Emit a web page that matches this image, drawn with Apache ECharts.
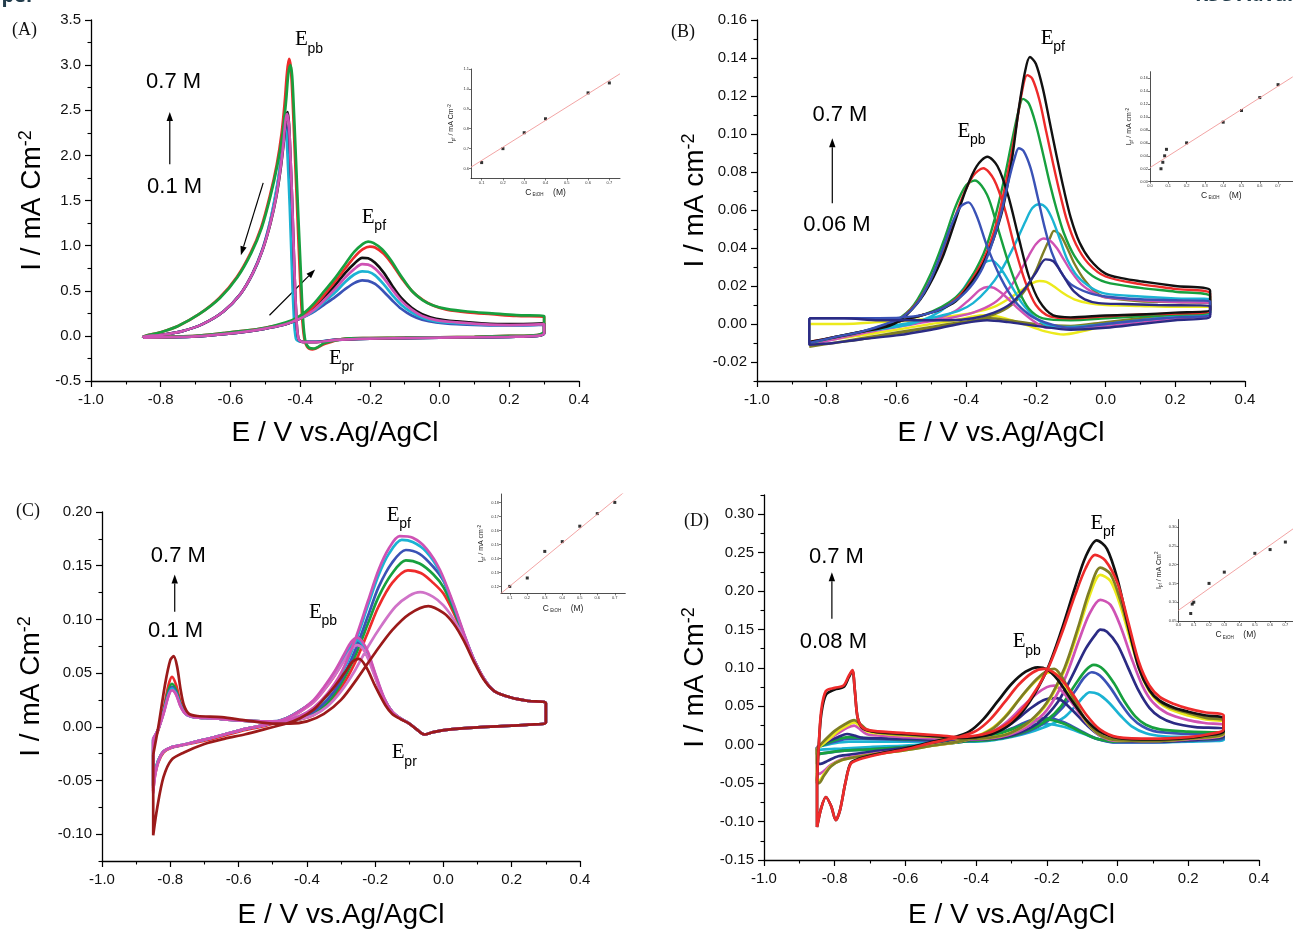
<!DOCTYPE html>
<html>
<head>
<meta charset="utf-8">
<script src="https://cdn.jsdelivr.net/npm/echarts@6.0.0/dist/echarts.min.js"></script>
<style>
html,body{margin:0;padding:0;background:#fff;}
#chart{width:1293px;height:930px;}
</style>
</head>
<body>
<div id="chart"></div>
<script>
// ---------- tick labels ----------
const xTicksMain = [-1.0, -0.8, -0.6, -0.4, -0.2, 0.0, 0.2, 0.4];
const yTicksA = [-0.5, 0.0, 0.5, 1.0, 1.5, 2.0, 2.5, 3.0, 3.5];
const yTicksB = [-0.02, 0.0, 0.02, 0.04, 0.06, 0.08, 0.10, 0.12, 0.14, 0.16];
const yTicksC = [-0.10, -0.05, 0.0, 0.05, 0.10, 0.15, 0.20];
const yTicksD = [-0.15, -0.10, -0.05, 0.0, 0.05, 0.10, 0.15, 0.20, 0.25, 0.30];
const insetXTicksA = [0.1, 0.2, 0.3, 0.4, 0.5, 0.6, 0.7];
const insetYTicksA = [0.6, 0.7, 0.8, 0.9, 1.0, 1.1];
const insetXTicksB = [0.0, 0.1, 0.2, 0.3, 0.4, 0.5, 0.6, 0.7];
const insetYTicksB = [0.00, 0.02, 0.04, 0.06, 0.08, 0.10, 0.12, 0.14, 0.16];
const insetXTicksC = [0.1, 0.2, 0.3, 0.4, 0.5, 0.6, 0.7];
const insetYTicksC = [0.12, 0.13, 0.14, 0.15, 0.16, 0.17, 0.18];
const insetXTicksD = [0.0, 0.1, 0.2, 0.3, 0.4, 0.5, 0.6, 0.7];
const insetYTicksD = [0.05, 0.10, 0.15, 0.20, 0.25, 0.30];

// ---------- (A) voltammograms: [E / V, I / mA cm-2], forward then reverse scan ----------
const cvA_green = [[-0.85,-0.02],[-0.78,-0.01],[-0.7,0.0],[-0.62,0.03],[-0.55,0.06],[-0.5,0.09],[-0.45,0.14],[-0.42,0.18],[-0.39,0.25],[-0.36,0.36],[-0.33,0.5],[-0.3,0.64],[-0.27,0.8],[-0.245,0.93],[-0.22,1.02],[-0.205,1.045],[-0.19,1.03],[-0.165,0.96],[-0.14,0.84],[-0.11,0.66],[-0.08,0.5],[-0.05,0.4],[-0.02,0.34],[0.02,0.3],[0.08,0.27],[0.15,0.25],[0.22,0.23],[0.3,0.22],
  [0.3,0.05],[0.28,0.01],[0.2,0.0],[0.1,-0.01],[0.0,-0.015],[-0.1,-0.02],[-0.2,-0.025],[-0.28,-0.035],[-0.33,-0.08],[-0.36,-0.14],[-0.375,-0.13],[-0.385,-0.06],[-0.392,0.2],[-0.398,0.7],[-0.405,1.3],[-0.412,1.95],[-0.418,2.5],[-0.423,2.88],[-0.428,3.0],[-0.434,2.9],[-0.44,2.62],[-0.45,2.25],[-0.465,1.9],[-0.485,1.55],[-0.51,1.2],[-0.54,0.92],[-0.58,0.65],[-0.63,0.42],[-0.69,0.24],[-0.75,0.11],[-0.8,0.04],[-0.85,-0.01]];
const cvA_red = [[-0.85,-0.02],[-0.78,-0.01],[-0.7,0.0],[-0.62,0.03],[-0.55,0.06],[-0.5,0.09],[-0.45,0.13],[-0.42,0.17],[-0.39,0.23],[-0.36,0.33],[-0.33,0.46],[-0.3,0.6],[-0.27,0.75],[-0.245,0.87],[-0.22,0.96],[-0.2,0.99],[-0.185,0.98],[-0.16,0.91],[-0.135,0.79],[-0.105,0.62],[-0.075,0.48],[-0.045,0.39],[-0.015,0.33],[0.02,0.29],[0.08,0.26],[0.15,0.24],[0.22,0.22],[0.3,0.21],
  [0.3,0.04],[0.28,0.01],[0.2,0.0],[0.1,-0.01],[0.0,-0.015],[-0.1,-0.02],[-0.2,-0.025],[-0.28,-0.035],[-0.33,-0.09],[-0.365,-0.15],[-0.38,-0.12],[-0.388,-0.03],[-0.395,0.25],[-0.402,0.8],[-0.409,1.45],[-0.416,2.1],[-0.422,2.65],[-0.427,2.98],[-0.432,3.07],[-0.438,2.9],[-0.444,2.6],[-0.453,2.25],[-0.467,1.9],[-0.487,1.55],[-0.512,1.2],[-0.542,0.92],[-0.582,0.65],[-0.632,0.42],[-0.69,0.24],[-0.75,0.11],[-0.8,0.04],[-0.85,-0.01]];
const cvA_black = [[-0.85,-0.02],[-0.78,-0.015],[-0.7,-0.005],[-0.62,0.02],[-0.55,0.05],[-0.5,0.08],[-0.45,0.12],[-0.42,0.16],[-0.39,0.22],[-0.36,0.31],[-0.33,0.43],[-0.3,0.56],[-0.27,0.7],[-0.245,0.8],[-0.222,0.865],[-0.205,0.86],[-0.185,0.81],[-0.16,0.7],[-0.135,0.55],[-0.11,0.42],[-0.08,0.31],[-0.05,0.24],[-0.01,0.19],[0.05,0.16],[0.12,0.14],[0.2,0.13],[0.3,0.14],
  [0.3,0.03],[0.28,0.0],[0.2,-0.01],[0.1,-0.015],[0.0,-0.02],[-0.1,-0.025],[-0.2,-0.03],[-0.3,-0.045],[-0.36,-0.07],[-0.39,-0.07],[-0.405,-0.03],[-0.412,0.3],[-0.418,0.9],[-0.423,1.5],[-0.428,2.0],[-0.432,2.35],[-0.436,2.48],[-0.441,2.4],[-0.447,2.15],[-0.456,1.85],[-0.468,1.55],[-0.485,1.25],[-0.508,0.95],[-0.535,0.7],[-0.57,0.47],[-0.62,0.27],[-0.68,0.13],[-0.74,0.05],[-0.8,0.01],[-0.85,-0.01]];
const cvA_magenta = [[-0.85,-0.02],[-0.78,-0.015],[-0.7,-0.005],[-0.62,0.02],[-0.55,0.05],[-0.5,0.08],[-0.45,0.12],[-0.42,0.16],[-0.39,0.21],[-0.36,0.29],[-0.33,0.4],[-0.3,0.52],[-0.27,0.65],[-0.245,0.74],[-0.222,0.795],[-0.205,0.79],[-0.185,0.745],[-0.16,0.64],[-0.135,0.51],[-0.11,0.39],[-0.08,0.29],[-0.05,0.22],[-0.01,0.175],[0.05,0.15],[0.12,0.13],[0.2,0.12],[0.3,0.13],
  [0.3,0.03],[0.28,0.0],[0.2,-0.01],[0.1,-0.015],[0.0,-0.02],[-0.1,-0.025],[-0.2,-0.03],[-0.3,-0.045],[-0.36,-0.07],[-0.39,-0.07],[-0.405,-0.03],[-0.412,0.3],[-0.418,0.9],[-0.423,1.5],[-0.428,2.0],[-0.432,2.33],[-0.437,2.46],[-0.442,2.38],[-0.448,2.13],[-0.457,1.84],[-0.469,1.54],[-0.486,1.24],[-0.508,0.95],[-0.535,0.7],[-0.57,0.47],[-0.62,0.27],[-0.68,0.13],[-0.74,0.05],[-0.8,0.01],[-0.85,-0.01]];
const cvA_blue = [[-0.85,-0.02],[-0.78,-0.015],[-0.7,-0.005],[-0.62,0.02],[-0.55,0.05],[-0.5,0.08],[-0.45,0.12],[-0.42,0.16],[-0.39,0.21],[-0.36,0.27],[-0.33,0.35],[-0.3,0.43],[-0.27,0.52],[-0.245,0.585],[-0.222,0.615],[-0.205,0.61],[-0.185,0.575],[-0.16,0.49],[-0.135,0.39],[-0.11,0.3],[-0.08,0.225],[-0.05,0.18],[-0.01,0.15],[0.05,0.13],[0.12,0.12],[0.2,0.115],[0.3,0.125],
  [0.3,0.03],[0.28,0.0],[0.2,-0.01],[0.1,-0.015],[0.0,-0.02],[-0.1,-0.025],[-0.2,-0.03],[-0.3,-0.045],[-0.36,-0.065],[-0.395,-0.065],[-0.41,-0.03],[-0.417,0.3],[-0.423,0.9],[-0.428,1.5],[-0.433,1.95],[-0.437,2.25],[-0.441,2.35],[-0.446,2.27],[-0.452,2.05],[-0.46,1.8],[-0.472,1.52],[-0.489,1.22],[-0.51,0.94],[-0.537,0.69],[-0.572,0.46],[-0.62,0.27],[-0.68,0.13],[-0.74,0.05],[-0.8,0.01],[-0.85,-0.01]];
const cvA_cyan = [[-0.85,-0.02],[-0.78,-0.015],[-0.7,-0.005],[-0.62,0.02],[-0.55,0.05],[-0.5,0.08],[-0.45,0.12],[-0.42,0.16],[-0.39,0.21],[-0.36,0.28],[-0.33,0.38],[-0.3,0.48],[-0.27,0.6],[-0.245,0.68],[-0.222,0.715],[-0.205,0.71],[-0.185,0.67],[-0.16,0.57],[-0.135,0.45],[-0.11,0.345],[-0.08,0.26],[-0.05,0.2],[-0.01,0.16],[0.05,0.14],[0.12,0.125],[0.2,0.118],[0.3,0.128],
  [0.3,0.03],[0.28,0.0],[0.2,-0.01],[0.1,-0.015],[0.0,-0.02],[-0.1,-0.025],[-0.2,-0.03],[-0.3,-0.045],[-0.36,-0.065],[-0.397,-0.065],[-0.412,-0.03],[-0.419,0.3],[-0.425,0.9],[-0.43,1.45],[-0.435,1.9],[-0.439,2.2],[-0.443,2.3],[-0.448,2.22],[-0.454,2.0],[-0.462,1.76],[-0.474,1.5],[-0.49,1.2],[-0.51,0.93],[-0.537,0.68],[-0.572,0.46],[-0.62,0.27],[-0.68,0.13],[-0.74,0.05],[-0.8,0.01],[-0.85,-0.01]];

// ---------- (B) ----------
const cvB_black = [[-0.85,-0.0095],[-0.75,-0.006],[-0.65,-0.002],[-0.58,0.002],[-0.52,0.005],[-0.47,0.008],[-0.43,0.012],[-0.4,0.018],[-0.35,0.032],[-0.3,0.057],[-0.27,0.085],[-0.25,0.112],[-0.232,0.132],[-0.217,0.1405],[-0.2,0.137],[-0.18,0.124],[-0.16,0.106],[-0.14,0.088],[-0.12,0.071],[-0.1,0.056],[-0.075,0.043],[-0.045,0.034],[0.0,0.0265],[0.05,0.024],[0.1,0.0225],[0.2,0.02],[0.3,0.0175],
  [0.3,0.0075],[0.2,0.006],[0.1,0.005],[0.0,0.0045],[-0.1,0.0035],[-0.15,0.0045],[-0.19,0.012],[-0.22,0.025],[-0.25,0.046],[-0.28,0.068],[-0.31,0.083],[-0.339,0.088],[-0.37,0.083],[-0.4,0.071],[-0.43,0.055],[-0.47,0.034],[-0.52,0.016],[-0.57,0.005],[-0.62,-0.001],[-0.7,-0.004],[-0.78,-0.007],[-0.85,-0.0095]];
const cvB_red = [[-0.85,-0.0095],[-0.75,-0.006],[-0.65,-0.002],[-0.58,0.002],[-0.52,0.005],[-0.47,0.008],[-0.43,0.013],[-0.4,0.019],[-0.35,0.034],[-0.31,0.055],[-0.28,0.08],[-0.26,0.1],[-0.24,0.122],[-0.225,0.131],[-0.21,0.129],[-0.19,0.118],[-0.17,0.101],[-0.15,0.084],[-0.13,0.068],[-0.11,0.054],[-0.085,0.042],[-0.05,0.032],[0.0,0.025],[0.1,0.021],[0.2,0.0185],[0.3,0.016],
  [0.3,0.007],[0.2,0.0055],[0.1,0.005],[0.0,0.004],[-0.1,0.003],[-0.16,0.004],[-0.2,0.01],[-0.23,0.022],[-0.26,0.04],[-0.29,0.061],[-0.32,0.076],[-0.351,0.082],[-0.38,0.078],[-0.41,0.067],[-0.44,0.052],[-0.48,0.032],[-0.53,0.014],[-0.58,0.004],[-0.63,-0.001],[-0.7,-0.004],[-0.78,-0.007],[-0.85,-0.0095]];
const cvB_green = [[-0.85,-0.01],[-0.75,-0.006],[-0.65,-0.002],[-0.58,0.002],[-0.52,0.005],[-0.47,0.009],[-0.43,0.014],[-0.4,0.02],[-0.35,0.037],[-0.32,0.054],[-0.29,0.077],[-0.27,0.095],[-0.25,0.112],[-0.237,0.1185],[-0.22,0.116],[-0.2,0.105],[-0.18,0.09],[-0.16,0.074],[-0.14,0.06],[-0.12,0.048],[-0.09,0.036],[-0.05,0.027],[0.0,0.022],[0.1,0.019],[0.2,0.017],[0.3,0.0145],
  [0.3,0.006],[0.2,0.005],[0.1,0.004],[0.0,0.003],[-0.1,0.002],[-0.18,0.003],[-0.22,0.008],[-0.25,0.018],[-0.28,0.033],[-0.31,0.051],[-0.34,0.068],[-0.375,0.0755],[-0.4,0.073],[-0.43,0.062],[-0.46,0.046],[-0.5,0.027],[-0.55,0.01],[-0.6,0.002],[-0.66,-0.002],[-0.72,-0.005],[-0.78,-0.007],[-0.85,-0.01]];
const cvB_blue = [[-0.85,0.003],[-0.75,0.003],[-0.65,0.003],[-0.55,0.004],[-0.5,0.006],[-0.45,0.01],[-0.4,0.017],[-0.36,0.027],[-0.33,0.04],[-0.3,0.058],[-0.28,0.074],[-0.26,0.088],[-0.249,0.0925],[-0.235,0.091],[-0.215,0.082],[-0.195,0.067],[-0.175,0.051],[-0.155,0.038],[-0.13,0.028],[-0.1,0.021],[-0.05,0.0165],[0.0,0.0145],[0.1,0.013],[0.2,0.0125],[0.3,0.012],
  [0.3,0.005],[0.2,0.0035],[0.1,0.002],[0.0,0.0],[-0.1,-0.002],[-0.16,0.0],[-0.19,0.002],[-0.22,0.005],[-0.26,0.012],[-0.3,0.024],[-0.34,0.041],[-0.37,0.057],[-0.393,0.064],[-0.415,0.062],[-0.44,0.053],[-0.47,0.038],[-0.5,0.024],[-0.54,0.011],[-0.58,0.004],[-0.63,0.0],[-0.7,-0.004],[-0.78,-0.007],[-0.85,-0.01]];
const cvB_cyan = [[-0.85,-0.01],[-0.75,-0.006],[-0.65,-0.002],[-0.55,0.001],[-0.48,0.004],[-0.42,0.007],[-0.38,0.011],[-0.34,0.018],[-0.3,0.028],[-0.26,0.042],[-0.23,0.054],[-0.21,0.061],[-0.19,0.063],[-0.17,0.061],[-0.15,0.054],[-0.13,0.044],[-0.11,0.034],[-0.08,0.025],[-0.04,0.019],[0.0,0.016],[0.1,0.0145],[0.2,0.0135],[0.3,0.013],
  [0.3,0.006],[0.2,0.004],[0.1,0.002],[0.0,0.0],[-0.1,-0.0015],[-0.16,-0.001],[-0.2,0.003],[-0.24,0.011],[-0.27,0.02],[-0.3,0.029],[-0.327,0.0335],[-0.35,0.032],[-0.38,0.026],[-0.41,0.018],[-0.45,0.01],[-0.5,0.004],[-0.56,0.0],[-0.62,-0.002],[-0.7,-0.004],[-0.78,-0.007],[-0.85,-0.01]];
const cvB_magenta = [[-0.85,-0.011],[-0.7,-0.005],[-0.55,0.0],[-0.45,0.003],[-0.38,0.006],[-0.32,0.011],[-0.28,0.018],[-0.25,0.026],[-0.22,0.036],[-0.2,0.042],[-0.178,0.045],[-0.16,0.044],[-0.14,0.04],[-0.12,0.034],[-0.1,0.028],[-0.07,0.021],[-0.03,0.016],[0.0,0.014],[0.1,0.0125],[0.2,0.0115],[0.3,0.011],
  [0.3,0.005],[0.2,0.003],[0.1,0.001],[0.0,-0.001],[-0.1,-0.002],[-0.17,-0.002],[-0.21,0.002],[-0.25,0.008],[-0.29,0.015],[-0.32,0.019],[-0.339,0.0195],[-0.36,0.018],[-0.39,0.013],[-0.43,0.007],[-0.48,0.003],[-0.55,0.0],[-0.62,-0.002],[-0.7,-0.005],[-0.78,-0.008],[-0.85,-0.011]];
const cvB_olive = [[-0.85,-0.012],[-0.75,-0.009],[-0.65,-0.006],[-0.55,-0.003],[-0.45,0.0],[-0.38,0.002],[-0.32,0.005],[-0.27,0.01],[-0.23,0.018],[-0.2,0.028],[-0.18,0.037],[-0.16,0.045],[-0.148,0.049],[-0.13,0.047],[-0.11,0.04],[-0.09,0.032],[-0.06,0.023],[-0.03,0.017],[0.0,0.014],[0.1,0.012],[0.2,0.0115],[0.3,0.0105],
  [0.3,0.007],[0.2,0.005],[0.1,0.003],[0.0,0.001],[-0.1,-0.001],[-0.2,0.0],[-0.28,0.002],[-0.33,0.003],[-0.4,0.001],[-0.5,-0.002],[-0.6,-0.005],[-0.7,-0.008],[-0.78,-0.01],[-0.85,-0.012]];
const cvB_navy = [[-0.85,0.003],[-0.75,0.003],[-0.65,0.002],[-0.55,0.002],[-0.45,0.002],[-0.38,0.003],[-0.32,0.006],[-0.27,0.011],[-0.23,0.019],[-0.2,0.027],[-0.172,0.034],[-0.15,0.033],[-0.13,0.028],[-0.11,0.022],[-0.09,0.017],[-0.06,0.013],[-0.02,0.011],[0.05,0.0105],[0.15,0.01],[0.3,0.0095],
  [0.3,0.004],[0.2,0.002],[0.1,0.0],[0.0,-0.002],[-0.1,-0.003],[-0.2,-0.001],[-0.28,0.001],[-0.34,0.002],[-0.42,0.0],[-0.5,-0.003],[-0.6,-0.006],[-0.7,-0.008],[-0.78,-0.01],[-0.85,-0.011]];
const cvB_yellow = [[-0.85,0.0],[-0.75,0.0],[-0.65,0.001],[-0.55,0.002],[-0.45,0.004],[-0.38,0.006],[-0.32,0.009],[-0.28,0.013],[-0.24,0.018],[-0.21,0.0215],[-0.19,0.0226],[-0.17,0.0222],[-0.15,0.02],[-0.12,0.016],[-0.09,0.013],[-0.05,0.011],[0.0,0.01],[0.1,0.0095],[0.2,0.009],[0.3,0.009],
  [0.3,0.006],[0.2,0.004],[0.1,0.002],[0.0,-0.001],[-0.07,-0.004],[-0.12,-0.0055],[-0.17,-0.004],[-0.22,-0.001],[-0.27,0.002],[-0.31,0.004],[-0.345,0.0046],[-0.38,0.004],[-0.43,0.002],[-0.5,0.0],[-0.6,-0.003],[-0.7,-0.006],[-0.78,-0.008],[-0.85,-0.01]];

// ---------- (C) ----------
const cvC_magenta = [[-0.85,-0.011],[-0.835,-0.002],[-0.82,0.012],[-0.805,0.029],[-0.795,0.034],[-0.783,0.03],[-0.77,0.019],[-0.755,0.012],[-0.73,0.009],[-0.68,0.008],[-0.6,0.006],[-0.52,0.005],[-0.46,0.006],[-0.42,0.01],[-0.38,0.018],[-0.34,0.031],[-0.3,0.05],[-0.26,0.08],[-0.22,0.118],[-0.19,0.146],[-0.16,0.166],[-0.128,0.1775],[-0.09,0.176],[-0.05,0.166],[-0.01,0.146],[0.03,0.114],[0.06,0.087],[0.09,0.062],[0.12,0.044],[0.15,0.033],[0.2,0.027],[0.25,0.024],[0.3,0.022],
  [0.3,0.004],[0.25,0.002],[0.2,0.001],[0.1,-0.0005],[0.02,-0.0025],[-0.03,-0.005],[-0.056,-0.0072],[-0.08,-0.002],[-0.1,0.003],[-0.125,0.0075],[-0.15,0.014],[-0.175,0.028],[-0.2,0.05],[-0.22,0.069],[-0.237,0.079],[-0.253,0.083],[-0.27,0.079],[-0.29,0.068],[-0.32,0.051],[-0.35,0.037],[-0.38,0.025],[-0.42,0.015],[-0.46,0.008],[-0.52,0.002],[-0.58,-0.002],[-0.64,-0.007],[-0.7,-0.012],[-0.76,-0.0165],[-0.8,-0.0195],[-0.82,-0.023],[-0.835,-0.032],[-0.845,-0.045],[-0.85,-0.062]];
const cvC_cyan = [[-0.85,-0.011],[-0.835,-0.002],[-0.82,0.013],[-0.805,0.03],[-0.795,0.0356],[-0.783,0.031],[-0.77,0.02],[-0.755,0.012],[-0.73,0.009],[-0.68,0.008],[-0.6,0.006],[-0.52,0.005],[-0.46,0.006],[-0.42,0.01],[-0.38,0.017],[-0.34,0.029],[-0.3,0.048],[-0.26,0.077],[-0.22,0.114],[-0.19,0.141],[-0.16,0.161],[-0.122,0.174],[-0.09,0.172],[-0.05,0.163],[-0.01,0.144],[0.03,0.113],[0.06,0.086],[0.09,0.062],[0.12,0.044],[0.15,0.033],[0.2,0.027],[0.25,0.024],[0.3,0.022],
  [0.3,0.004],[0.25,0.002],[0.2,0.001],[0.1,-0.0005],[0.02,-0.0025],[-0.03,-0.005],[-0.056,-0.0072],[-0.08,-0.002],[-0.1,0.003],[-0.125,0.0075],[-0.15,0.014],[-0.175,0.027],[-0.2,0.049],[-0.22,0.067],[-0.237,0.077],[-0.253,0.081],[-0.27,0.077],[-0.29,0.066],[-0.32,0.05],[-0.35,0.036],[-0.38,0.024],[-0.42,0.015],[-0.46,0.008],[-0.52,0.002],[-0.58,-0.002],[-0.64,-0.007],[-0.7,-0.012],[-0.76,-0.0165],[-0.8,-0.0195],[-0.82,-0.023],[-0.835,-0.031],[-0.845,-0.043],[-0.85,-0.055]];
const cvC_blue = [[-0.85,-0.012],[-0.835,-0.002],[-0.82,0.013],[-0.805,0.031],[-0.795,0.037],[-0.783,0.032],[-0.77,0.02],[-0.755,0.012],[-0.73,0.009],[-0.68,0.008],[-0.6,0.006],[-0.52,0.005],[-0.46,0.005],[-0.42,0.008],[-0.38,0.014],[-0.34,0.025],[-0.3,0.043],[-0.26,0.07],[-0.22,0.104],[-0.19,0.13],[-0.15,0.153],[-0.11,0.1646],[-0.07,0.161],[-0.03,0.149],[0.0,0.136],[0.03,0.112],[0.06,0.086],[0.09,0.062],[0.12,0.044],[0.15,0.033],[0.2,0.027],[0.25,0.024],[0.3,0.022],
  [0.3,0.004],[0.25,0.002],[0.2,0.001],[0.1,-0.0005],[0.02,-0.0025],[-0.03,-0.005],[-0.056,-0.0072],[-0.08,-0.002],[-0.1,0.003],[-0.125,0.0075],[-0.15,0.014],[-0.175,0.027],[-0.2,0.048],[-0.22,0.066],[-0.237,0.076],[-0.252,0.08],[-0.27,0.076],[-0.29,0.065],[-0.32,0.049],[-0.35,0.035],[-0.38,0.024],[-0.42,0.015],[-0.46,0.008],[-0.52,0.002],[-0.58,-0.002],[-0.64,-0.007],[-0.7,-0.012],[-0.76,-0.0165],[-0.8,-0.0195],[-0.82,-0.023],[-0.835,-0.032],[-0.845,-0.044],[-0.85,-0.057]];
const cvC_green = [[-0.85,-0.012],[-0.835,-0.002],[-0.82,0.014],[-0.805,0.034],[-0.795,0.04],[-0.783,0.034],[-0.77,0.021],[-0.755,0.013],[-0.73,0.009],[-0.68,0.008],[-0.6,0.006],[-0.52,0.005],[-0.46,0.005],[-0.42,0.007],[-0.38,0.012],[-0.34,0.022],[-0.3,0.04],[-0.26,0.065],[-0.22,0.097],[-0.19,0.121],[-0.15,0.143],[-0.11,0.155],[-0.07,0.152],[-0.03,0.142],[0.0,0.13],[0.03,0.109],[0.06,0.085],[0.09,0.062],[0.12,0.044],[0.15,0.033],[0.2,0.027],[0.25,0.024],[0.3,0.022],
  [0.3,0.004],[0.25,0.002],[0.2,0.001],[0.1,-0.0005],[0.02,-0.0025],[-0.03,-0.005],[-0.056,-0.0072],[-0.08,-0.002],[-0.1,0.003],[-0.125,0.0075],[-0.15,0.014],[-0.175,0.027],[-0.2,0.048],[-0.22,0.066],[-0.237,0.076],[-0.252,0.0795],[-0.27,0.076],[-0.29,0.065],[-0.32,0.049],[-0.35,0.035],[-0.38,0.024],[-0.42,0.015],[-0.46,0.008],[-0.52,0.002],[-0.58,-0.002],[-0.64,-0.007],[-0.7,-0.012],[-0.76,-0.0165],[-0.8,-0.0195],[-0.82,-0.023],[-0.835,-0.031],[-0.845,-0.043],[-0.85,-0.055]];
const cvC_red = [[-0.85,-0.014],[-0.835,-0.003],[-0.82,0.016],[-0.805,0.039],[-0.795,0.0464],[-0.783,0.039],[-0.77,0.023],[-0.755,0.013],[-0.73,0.009],[-0.68,0.008],[-0.6,0.006],[-0.52,0.005],[-0.46,0.005],[-0.42,0.007],[-0.38,0.011],[-0.34,0.02],[-0.3,0.036],[-0.26,0.059],[-0.22,0.089],[-0.19,0.112],[-0.15,0.134],[-0.104,0.1456],[-0.065,0.143],[-0.03,0.134],[0.0,0.124],[0.03,0.106],[0.06,0.084],[0.09,0.062],[0.12,0.044],[0.15,0.033],[0.2,0.027],[0.25,0.024],[0.3,0.022],
  [0.3,0.004],[0.25,0.002],[0.2,0.001],[0.1,-0.0005],[0.02,-0.0025],[-0.03,-0.005],[-0.056,-0.0072],[-0.08,-0.002],[-0.1,0.003],[-0.125,0.0075],[-0.15,0.014],[-0.175,0.026],[-0.2,0.047],[-0.22,0.064],[-0.237,0.074],[-0.252,0.077],[-0.27,0.073],[-0.29,0.063],[-0.32,0.047],[-0.35,0.034],[-0.38,0.023],[-0.42,0.014],[-0.46,0.007],[-0.52,0.001],[-0.58,-0.003],[-0.64,-0.008],[-0.7,-0.013],[-0.76,-0.017],[-0.8,-0.02],[-0.82,-0.024],[-0.835,-0.033],[-0.845,-0.046],[-0.85,-0.06]];
const cvC_orchid = [[-0.85,-0.011],[-0.835,-0.002],[-0.82,0.012],[-0.805,0.029],[-0.795,0.034],[-0.783,0.03],[-0.77,0.019],[-0.755,0.012],[-0.73,0.009],[-0.68,0.008],[-0.6,0.006],[-0.52,0.005],[-0.46,0.005],[-0.42,0.007],[-0.38,0.011],[-0.34,0.019],[-0.3,0.033],[-0.26,0.052],[-0.22,0.075],[-0.18,0.095],[-0.14,0.112],[-0.1,0.122],[-0.068,0.1253],[-0.03,0.121],[0.0,0.113],[0.03,0.1],[0.06,0.083],[0.09,0.062],[0.12,0.044],[0.15,0.033],[0.2,0.027],[0.25,0.024],[0.3,0.022],
  [0.3,0.004],[0.25,0.002],[0.2,0.001],[0.1,-0.0005],[0.02,-0.0025],[-0.03,-0.005],[-0.056,-0.0072],[-0.08,-0.002],[-0.1,0.003],[-0.125,0.0075],[-0.15,0.014],[-0.175,0.026],[-0.2,0.046],[-0.22,0.063],[-0.237,0.073],[-0.252,0.076],[-0.27,0.072],[-0.29,0.062],[-0.32,0.047],[-0.35,0.034],[-0.38,0.023],[-0.42,0.014],[-0.46,0.007],[-0.52,0.002],[-0.58,-0.002],[-0.64,-0.007],[-0.7,-0.012],[-0.76,-0.0165],[-0.8,-0.0195],[-0.82,-0.023],[-0.835,-0.032],[-0.845,-0.046],[-0.85,-0.06]];
const cvC_darkred = [[-0.85,-0.026],[-0.835,0.0],[-0.815,0.04],[-0.8,0.062],[-0.79,0.0657],[-0.78,0.056],[-0.77,0.035],[-0.76,0.02],[-0.745,0.012],[-0.72,0.01],[-0.65,0.009],[-0.58,0.006],[-0.5,0.003],[-0.45,0.003],[-0.4,0.005],[-0.35,0.012],[-0.3,0.025],[-0.25,0.046],[-0.2,0.069],[-0.15,0.09],[-0.1,0.105],[-0.044,0.1124],[0.0,0.106],[0.03,0.096],[0.06,0.08],[0.09,0.06],[0.12,0.043],[0.15,0.033],[0.2,0.027],[0.25,0.024],[0.3,0.022],
  [0.3,0.004],[0.25,0.002],[0.2,0.001],[0.1,-0.0005],[0.02,-0.0025],[-0.03,-0.005],[-0.056,-0.0072],[-0.08,-0.002],[-0.1,0.003],[-0.125,0.007],[-0.15,0.012],[-0.17,0.02],[-0.2,0.038],[-0.225,0.055],[-0.247,0.0633],[-0.265,0.061],[-0.29,0.05],[-0.32,0.037],[-0.35,0.026],[-0.38,0.016],[-0.42,0.008],[-0.46,0.003],[-0.52,-0.002],[-0.58,-0.007],[-0.64,-0.011],[-0.7,-0.016],[-0.76,-0.024],[-0.797,-0.031],[-0.82,-0.047],[-0.838,-0.075],[-0.85,-0.101]];

// ---------- (D) ----------
const cvD_black = [[-0.85,-0.045],[-0.845,0.0],[-0.838,0.04],[-0.825,0.065],[-0.8,0.072],[-0.775,0.075],[-0.76,0.088],[-0.75,0.096],[-0.743,0.07],[-0.735,0.035],[-0.72,0.021],[-0.69,0.017],[-0.6,0.014],[-0.5,0.011],[-0.45,0.009],[-0.4,0.01],[-0.35,0.015],[-0.3,0.028],[-0.25,0.055],[-0.2,0.097],[-0.16,0.147],[-0.12,0.205],[-0.09,0.245],[-0.059,0.266],[-0.03,0.255],[0.0,0.215],[0.03,0.155],[0.06,0.1],[0.09,0.071],[0.12,0.057],[0.16,0.048],[0.2,0.043],[0.25,0.038],[0.3,0.034],
  [0.3,0.018],[0.25,0.012],[0.2,0.009],[0.1,0.007],[0.0,0.009],[-0.05,0.017],[-0.09,0.033],[-0.13,0.058],[-0.17,0.085],[-0.2,0.098],[-0.226,0.1008],[-0.26,0.095],[-0.3,0.079],[-0.34,0.056],[-0.38,0.033],[-0.42,0.017],[-0.46,0.01],[-0.52,0.004],[-0.6,-0.005],[-0.68,-0.012],[-0.73,-0.018],[-0.755,-0.024],[-0.77,-0.05],[-0.785,-0.085],[-0.797,-0.098],[-0.81,-0.08],[-0.825,-0.068],[-0.838,-0.082],[-0.85,-0.107]];
const cvD_red = [[-0.85,-0.045],[-0.845,0.0],[-0.838,0.045],[-0.825,0.07],[-0.8,0.074],[-0.775,0.077],[-0.76,0.09],[-0.75,0.097],[-0.743,0.07],[-0.735,0.035],[-0.72,0.022],[-0.69,0.018],[-0.6,0.015],[-0.5,0.012],[-0.45,0.01],[-0.4,0.012],[-0.35,0.018],[-0.3,0.032],[-0.25,0.058],[-0.2,0.096],[-0.16,0.142],[-0.12,0.195],[-0.09,0.23],[-0.064,0.247],[-0.035,0.24],[0.0,0.21],[0.03,0.16],[0.06,0.108],[0.09,0.077],[0.12,0.062],[0.16,0.053],[0.2,0.047],[0.25,0.042],[0.3,0.038],
  [0.3,0.02],[0.25,0.013],[0.2,0.01],[0.1,0.008],[0.0,0.01],[-0.05,0.02],[-0.09,0.04],[-0.13,0.068],[-0.17,0.09],[-0.208,0.0986],[-0.24,0.094],[-0.28,0.078],[-0.32,0.055],[-0.36,0.033],[-0.4,0.018],[-0.45,0.01],[-0.52,0.003],[-0.6,-0.006],[-0.68,-0.013],[-0.73,-0.019],[-0.755,-0.025],[-0.77,-0.05],[-0.785,-0.085],[-0.797,-0.098],[-0.81,-0.08],[-0.825,-0.068],[-0.838,-0.082],[-0.85,-0.107]];
const cvD_olive = [[-0.85,-0.005],[-0.83,0.005],[-0.8,0.018],[-0.77,0.027],[-0.745,0.032],[-0.73,0.028],[-0.71,0.02],[-0.68,0.016],[-0.6,0.013],[-0.5,0.01],[-0.42,0.008],[-0.35,0.01],[-0.3,0.016],[-0.25,0.03],[-0.2,0.055],[-0.15,0.1],[-0.11,0.155],[-0.08,0.2],[-0.049,0.2305],[-0.02,0.222],[0.01,0.185],[0.04,0.135],[0.07,0.09],[0.1,0.065],[0.14,0.05],[0.2,0.041],[0.25,0.035],[0.3,0.031],
  [0.3,0.015],[0.2,0.008],[0.1,0.005],[0.0,0.006],[-0.05,0.013],[-0.09,0.032],[-0.13,0.065],[-0.16,0.09],[-0.179,0.0986],[-0.2,0.096],[-0.23,0.085],[-0.27,0.064],[-0.31,0.04],[-0.35,0.022],[-0.4,0.01],[-0.45,0.004],[-0.52,-0.001],[-0.6,-0.007],[-0.68,-0.012],[-0.74,-0.016],[-0.78,-0.02],[-0.81,-0.028],[-0.83,-0.04],[-0.845,-0.05],[-0.85,-0.05]];
const cvD_yellow = [[-0.85,-0.005],[-0.82,0.006],[-0.79,0.018],[-0.765,0.025],[-0.745,0.029],[-0.73,0.025],[-0.71,0.018],[-0.68,0.015],[-0.6,0.012],[-0.5,0.01],[-0.42,0.008],[-0.35,0.01],[-0.3,0.016],[-0.25,0.029],[-0.2,0.053],[-0.15,0.097],[-0.11,0.15],[-0.08,0.193],[-0.049,0.221],[-0.02,0.213],[0.01,0.178],[0.04,0.13],[0.07,0.088],[0.1,0.063],[0.14,0.048],[0.2,0.038],[0.25,0.033],[0.3,0.029],
  [0.3,0.014],[0.2,0.008],[0.1,0.005],[0.0,0.006],[-0.05,0.013],[-0.09,0.031],[-0.13,0.062],[-0.16,0.086],[-0.185,0.0943],[-0.21,0.091],[-0.24,0.079],[-0.28,0.058],[-0.32,0.036],[-0.36,0.02],[-0.41,0.009],[-0.46,0.003],[-0.52,-0.001],[-0.6,-0.007],[-0.68,-0.012],[-0.74,-0.016],[-0.78,-0.02],[-0.81,-0.027],[-0.83,-0.038],[-0.845,-0.047],[-0.85,-0.047]];
const cvD_magenta = [[-0.85,-0.004],[-0.82,0.006],[-0.79,0.015],[-0.765,0.022],[-0.745,0.025],[-0.728,0.02],[-0.71,0.014],[-0.68,0.012],[-0.6,0.01],[-0.5,0.008],[-0.42,0.007],[-0.35,0.009],[-0.3,0.014],[-0.25,0.025],[-0.2,0.045],[-0.15,0.085],[-0.11,0.135],[-0.08,0.17],[-0.049,0.1886],[-0.02,0.182],[0.01,0.152],[0.04,0.112],[0.07,0.077],[0.1,0.055],[0.14,0.041],[0.2,0.032],[0.25,0.028],[0.3,0.025],
  [0.3,0.013],[0.2,0.007],[0.1,0.005],[0.0,0.005],[-0.05,0.012],[-0.09,0.03],[-0.13,0.055],[-0.16,0.071],[-0.179,0.077],[-0.2,0.075],[-0.23,0.066],[-0.27,0.049],[-0.31,0.031],[-0.35,0.018],[-0.4,0.009],[-0.46,0.003],[-0.52,-0.001],[-0.6,-0.006],[-0.68,-0.011],[-0.74,-0.015],[-0.78,-0.019],[-0.81,-0.026],[-0.83,-0.034],[-0.845,-0.038],[-0.85,-0.038]];
const cvD_navy = [[-0.85,-0.004],[-0.82,0.004],[-0.79,0.01],[-0.765,0.014],[-0.745,0.012],[-0.72,0.009],[-0.65,0.008],[-0.55,0.007],[-0.45,0.006],[-0.38,0.007],[-0.32,0.01],[-0.27,0.017],[-0.22,0.03],[-0.17,0.055],[-0.13,0.088],[-0.09,0.125],[-0.06,0.145],[-0.049,0.1497],[-0.03,0.147],[0.0,0.13],[0.03,0.1],[0.06,0.07],[0.09,0.048],[0.12,0.036],[0.16,0.028],[0.22,0.023],[0.3,0.02],
  [0.3,0.011],[0.2,0.006],[0.1,0.004],[0.0,0.005],[-0.05,0.012],[-0.09,0.027],[-0.13,0.046],[-0.173,0.0606],[-0.21,0.058],[-0.25,0.046],[-0.29,0.031],[-0.33,0.019],[-0.38,0.01],[-0.45,0.004],[-0.52,0.0],[-0.6,-0.004],[-0.68,-0.008],[-0.74,-0.012],[-0.79,-0.015],[-0.82,-0.021],[-0.84,-0.025],[-0.85,-0.025]];
const cvD_green = [[-0.85,-0.004],[-0.8,0.006],[-0.76,0.01],[-0.72,0.009],[-0.6,0.007],[-0.5,0.006],[-0.42,0.005],[-0.35,0.007],[-0.3,0.011],[-0.25,0.019],[-0.2,0.032],[-0.16,0.05],[-0.12,0.078],[-0.09,0.097],[-0.067,0.1038],[-0.04,0.098],[-0.01,0.08],[0.02,0.056],[0.05,0.037],[0.08,0.026],[0.12,0.02],[0.2,0.017],[0.3,0.015],
  [0.3,0.01],[0.2,0.006],[0.1,0.004],[0.0,0.004],[-0.06,0.008],[-0.1,0.016],[-0.15,0.027],[-0.2,0.033],[-0.25,0.029],[-0.3,0.02],[-0.36,0.011],[-0.42,0.005],[-0.5,0.001],[-0.6,-0.003],[-0.7,-0.006],[-0.78,-0.008],[-0.83,-0.011],[-0.85,-0.013]];
const cvD_blue = [[-0.85,-0.003],[-0.8,0.004],[-0.76,0.008],[-0.72,0.008],[-0.6,0.006],[-0.5,0.005],[-0.42,0.005],[-0.35,0.007],[-0.3,0.011],[-0.25,0.018],[-0.2,0.03],[-0.16,0.046],[-0.12,0.07],[-0.095,0.087],[-0.073,0.0943],[-0.05,0.09],[-0.02,0.074],[0.01,0.053],[0.04,0.035],[0.07,0.024],[0.11,0.017],[0.2,0.014],[0.3,0.012],
  [0.3,0.008],[0.2,0.005],[0.1,0.003],[0.0,0.003],[-0.06,0.008],[-0.1,0.017],[-0.15,0.029],[-0.2,0.0346],[-0.25,0.031],[-0.3,0.021],[-0.36,0.011],[-0.42,0.005],[-0.5,0.001],[-0.6,-0.003],[-0.7,-0.006],[-0.78,-0.008],[-0.83,-0.011],[-0.85,-0.012]];
const cvD_cyan = [[-0.85,-0.003],[-0.8,0.002],[-0.76,0.004],[-0.7,0.004],[-0.6,0.004],[-0.5,0.004],[-0.42,0.004],[-0.35,0.006],[-0.3,0.01],[-0.25,0.016],[-0.2,0.024],[-0.15,0.036],[-0.12,0.05],[-0.095,0.063],[-0.079,0.0683],[-0.055,0.066],[-0.025,0.055],[0.01,0.037],[0.04,0.024],[0.08,0.015],[0.13,0.011],[0.2,0.01],[0.3,0.009],
  [0.3,0.006],[0.2,0.004],[0.1,0.003],[0.0,0.003],[-0.06,0.008],[-0.1,0.015],[-0.15,0.023],[-0.2,0.027],[-0.25,0.026],[-0.3,0.02],[-0.36,0.011],[-0.42,0.006],[-0.5,0.002],[-0.6,-0.001],[-0.7,-0.003],[-0.78,-0.005],[-0.83,-0.006],[-0.85,-0.007]];

// ---------- calibration plots: C(EtOH) / M vs Ipf ----------
const insetA_conc = [0.1, 0.2, 0.3, 0.4, 0.6, 0.7];
const insetA_ipf = [0.63, 0.70, 0.78, 0.85, 0.98, 1.03];
const insetA_fit = [[0.05, 0.607], [0.75, 1.076]];
const insetB_conc = [0.06, 0.07, 0.08, 0.09, 0.2, 0.4, 0.5, 0.6, 0.7];
const insetB_ipf = [0.02, 0.03, 0.04, 0.05, 0.06, 0.092, 0.11, 0.13, 0.15];
const insetB_fit = [[0.0, 0.0218], [0.78, 0.162]];
const insetC_conc = [0.1, 0.2, 0.3, 0.4, 0.5, 0.6, 0.7];
const insetC_ipf = [0.120, 0.126, 0.145, 0.152, 0.163, 0.172, 0.180];
const insetC_fit = [[0.05, 0.115], [0.76, 0.188]];
const insetD_conc = [0.08, 0.09, 0.1, 0.2, 0.3, 0.5, 0.6, 0.7];
const insetD_ipf = [0.07, 0.095, 0.10, 0.15, 0.18, 0.23, 0.24, 0.26];
const insetD_fit = [[0.0, 0.0786], [0.75, 0.295]];

// ---------- styling ----------
const SANS = 'Liberation Sans';
const SERIF = 'Liberation Serif';
const COL = {
  black: '#111111', red: '#ee2b2b', green: '#17a03e', blue: '#3a52b6', cyan: '#1bb3d3',
  magenta: '#cf52b4', olive: '#7e7e24', navy: '#2b2b84', yellow: '#ecea1c',
  orchid: '#d073c8', darkred: '#9b1a1a', fit: '#f19a9a'
};

function minorsOf(ticks, min, max) {
  const step = ticks[1] - ticks[0];
  const out = [];
  for (let i = 0; i < ticks.length - 1; i++) out.push(+((ticks[i] + ticks[i + 1]) / 2).toFixed(6));
  const lo = ticks[0] - step / 2, hi = ticks[ticks.length - 1] + step / 2;
  if (lo >= min - 1e-9) out.unshift(+lo.toFixed(6));
  if (hi <= max + 1e-9) out.push(+hi.toFixed(6));
  return out;
}

function mainAxes(dim, gridIndex, min, max, ticks, digits, nameCfg) {
  const position = dim === 'x' ? 'bottom' : 'left';
  const major = Object.assign({
    type: 'value', gridIndex, min, max, position,
    axisLine: { show: true, onZero: false, lineStyle: { color: '#000', width: 1.3 } },
    axisTick: { show: true, customValues: ticks, length: 6, lineStyle: { color: '#000', width: 1.2 } },
    axisLabel: { show: true, customValues: ticks, formatter: v => v.toFixed(digits),
      fontFamily: SANS, fontSize: 15, color: '#111', margin: dim === 'x' ? 11 : 10 },
    splitLine: { show: false }
  }, nameCfg);
  const minor = {
    type: 'value', gridIndex, min, max, position,
    axisLine: { show: false, onZero: false },
    axisTick: { show: true, customValues: minorsOf(ticks, min, max), length: 3.5, lineStyle: { color: '#000', width: 1.1 } },
    axisLabel: { show: false }, splitLine: { show: false }
  };
  return [major, minor];
}

function insetAxis(dim, gridIndex, min, max, ticks, digits, nameCfg) {
  return Object.assign({
    type: 'value', gridIndex, min, max, position: dim === 'x' ? 'bottom' : 'left',
    axisLine: { show: true, onZero: false, lineStyle: { color: '#222', width: 0.8 } },
    axisTick: { show: true, customValues: ticks, length: 2, lineStyle: { color: '#222', width: 0.6 } },
    axisLabel: { show: true, customValues: ticks, formatter: v => v.toFixed(digits),
      fontFamily: SANS, fontSize: 4, color: '#333', margin: 2 },
    splitLine: { show: false }
  }, nameCfg);
}

const xTitle = gap => ({
  name: 'E / V vs.Ag/AgCl', nameLocation: 'middle', nameGap: gap,
  nameTextStyle: { fontFamily: SANS, fontSize: 28, color: '#000' }
});
const yTitle = (unit, gap) => ({
  name: '{m|' + unit + '}{s|-2}', nameLocation: 'middle', nameRotate: 90, nameGap: gap,
  nameTextStyle: { rich: {
    m: { fontFamily: SANS, fontSize: 28, color: '#000', lineHeight: 30 },
    s: { fontFamily: SANS, fontSize: 18, color: '#000', lineHeight: 18, verticalAlign: 'top' }
  } }
});
const insetYName = (unit, sup, gap) => ({
  name: '{a|I}{b|pf}{a| / mA ' + unit + '}{c|' + sup + '}', nameLocation: 'middle', nameRotate: 90, nameGap: gap,
  nameTextStyle: { rich: {
    a: { fontFamily: SANS, fontSize: 7, color: '#222', lineHeight: 9 },
    b: { fontFamily: SANS, fontSize: 4.5, color: '#222', lineHeight: 5, verticalAlign: 'bottom' },
    c: { fontFamily: SANS, fontSize: 4.5, color: '#222', lineHeight: 5, verticalAlign: 'top' }
  } }
});
const insetXName = gap => ({
  name: '{a|C}{b| EtOH}{a|    (M)}', nameLocation: 'middle', nameGap: gap,
  nameTextStyle: { rich: {
    a: { fontFamily: SANS, fontSize: 8.5, color: '#222', lineHeight: 10 },
    b: { fontFamily: SANS, fontSize: 4.5, color: '#222', lineHeight: 5, verticalAlign: 'bottom' }
  } }
});

// ---------- layout ----------
const grids = [
  { left: 91, top: 20, width: 488, height: 361 },
  { left: 757, top: 20, width: 488, height: 361 },
  { left: 102, top: 512, width: 478, height: 352 },
  { left: 764, top: 495, width: 495, height: 367 },
  { left: 471, top: 69, width: 149, height: 109.5 },
  { left: 1150, top: 71.7, width: 142.7, height: 110 },
  { left: 501, top: 494, width: 124.3, height: 99.4 },
  { left: 1178.5, top: 519.5, width: 121.5, height: 101.5 }
];

const xAxes = [], yAxes = [];
const panelY = [
  { min: -0.5, max: 3.5, ticks: yTicksA, digits: 1, unit: 'I / mA Cm', ygap: 44, xgap: 38 },
  { min: -0.03, max: 0.16, ticks: yTicksB, digits: 2, unit: 'I / mA cm', ygap: 47, xgap: 38 },
  { min: -0.125, max: 0.2, ticks: yTicksC, digits: 2, unit: 'I / mA Cm', ygap: 56, xgap: 40 },
  { min: -0.15, max: 0.325, ticks: yTicksD, digits: 2, unit: 'I / mA Cm', ygap: 54, xgap: 41 }
];
panelY.forEach((p, i) => {
  xAxes.push(...mainAxes('x', i, -1.0, 0.4, xTicksMain, 1, xTitle(p.xgap)));
  yAxes.push(...mainAxes('y', i, p.min, p.max, p.ticks, p.digits, yTitle(p.unit, p.ygap)));
});
// calibration plot axes (indices 8..11)
xAxes.push(insetAxis('x', 4, 0.05, 0.75, insetXTicksA, 1, insetXName(9)));
yAxes.push(insetAxis('y', 4, 0.55, 1.1, insetYTicksA, 1, insetYName('Cm', '-2', 15)));
xAxes.push(insetAxis('x', 5, 0.0, 0.78, insetXTicksB, 1, insetXName(9)));
yAxes.push(insetAxis('y', 5, 0.0, 0.17, insetYTicksB, 2, insetYName('cm', '-2', 16)));
xAxes.push(insetAxis('x', 6, 0.05, 0.76, insetXTicksC, 1, insetXName(10)));
yAxes.push(insetAxis('y', 6, 0.115, 0.186, insetYTicksC, 2, insetYName('cm', '-2', 15)));
xAxes.push(insetAxis('x', 7, 0.0, 0.75, insetXTicksD, 1, insetXName(9)));
yAxes.push(insetAxis('y', 7, 0.05, 0.32, insetYTicksD, 2, insetYName('Cm', '2', 15)));

// ---------- series ----------
const panelCurves = [
  [[cvA_blue, COL.blue], [cvA_cyan, COL.cyan], [cvA_black, COL.black], [cvA_red, COL.red], [cvA_green, COL.green], [cvA_magenta, COL.magenta]],
  [[cvB_yellow, COL.yellow], [cvB_olive, COL.olive], [cvB_magenta, COL.magenta], [cvB_cyan, COL.cyan], [cvB_green, COL.green], [cvB_red, COL.red], [cvB_black, COL.black], [cvB_blue, COL.blue], [cvB_navy, COL.navy]],
  [[cvC_red, COL.red], [cvC_green, COL.green], [cvC_blue, COL.blue], [cvC_cyan, COL.cyan], [cvC_orchid, COL.orchid], [cvC_magenta, COL.magenta], [cvC_darkred, COL.darkred]],
  [[cvD_cyan, COL.cyan], [cvD_blue, COL.blue], [cvD_green, COL.green], [cvD_navy, COL.navy], [cvD_magenta, COL.magenta], [cvD_yellow, COL.yellow], [cvD_olive, COL.olive], [cvD_black, COL.black], [cvD_red, COL.red]]
];
const series = [];
panelCurves.forEach((curves, p) => {
  curves.forEach(([pts, color]) => {
    series.push({
      type: 'line', xAxisIndex: 2 * p, yAxisIndex: 2 * p,
      data: pts.concat([pts[0]]), showSymbol: false, smooth: 0.3,
      lineStyle: { color, width: p === 1 ? 2.4 : 2.7 }, itemStyle: { color },
      silent: true, animation: false
    });
  });
});
const insets = [
  [insetA_conc, insetA_ipf, insetA_fit],
  [insetB_conc, insetB_ipf, insetB_fit],
  [insetC_conc, insetC_ipf, insetC_fit],
  [insetD_conc, insetD_ipf, insetD_fit]
];
insets.forEach(([cx, iy, fit], k) => {
  const ax = 8 + k;
  series.push({
    type: 'line', xAxisIndex: ax, yAxisIndex: ax, data: fit, showSymbol: false,
    lineStyle: { color: COL.fit, width: 0.9 }, silent: true, animation: false
  });
  series.push({
    type: 'scatter', xAxisIndex: ax, yAxisIndex: ax, data: cx.map((c, i) => [c, iy[i]]),
    symbol: 'rect', symbolSize: 3, itemStyle: { color: '#000' }, silent: true, animation: false
  });
});

const chart = echarts.init(document.getElementById('chart'), null, { renderer: 'canvas' });
chart.setOption({
  backgroundColor: '#fff', animation: false,
  grid: grids, xAxis: xAxes, yAxis: yAxes, series
});

// ---------- annotations (anchored in data coordinates) ----------
const toPx = (p, E, I) => chart.convertToPixel({ xAxisIndex: 2 * p, yAxisIndex: 2 * p }, [E, I]);
const peakLabels = [
  [0, -0.415, 3.28, 'pb'], [0, -0.223, 1.315, 'pf'], [0, -0.317, -0.25, 'pr'],
  [1, -0.186, 0.1505, 'pf'], [1, -0.425, 0.1015, 'pb'],
  [2, -0.166, 0.197, 'pf'], [2, -0.394, 0.1066, 'pb'], [2, -0.151, -0.0243, 'pr'],
  [3, -0.0765, 0.2883, 'pf'], [3, -0.2963, 0.134, 'pb']
];
const concLabels = [
  [0, -0.842, 2.81, '0.7 M'], [0, -0.839, 1.648, '0.1 M'],
  [1, -0.841, 0.11, '0.7 M'], [1, -0.867, 0.052, '0.06 M'],
  [2, -0.857, 0.1587, '0.7 M'], [2, -0.865, 0.0896, '0.1 M'],
  [3, -0.873, 0.244, '0.7 M'], [3, -0.899, 0.1335, '0.08 M']
];
const arrows = [
  [0, -0.774, 1.903, -0.774, 2.48], [0, -0.506, 1.696, -0.570, 0.894], [0, -0.488, 0.228, -0.357, 0.735],
  [1, -0.784, 0.0636, -0.784, 0.0978],
  [2, -0.787, 0.107, -0.787, 0.1417],
  [3, -0.808, 0.164, -0.808, 0.2245]
];
const graphics = [];
peakLabels.forEach(([p, E, I, sub]) => {
  const [x, y] = toPx(p, E, I);
  graphics.push({ type: 'text', x, y, silent: true, style: { text: 'E', fontFamily: SERIF, fontSize: 21, fill: '#000', align: 'left', verticalAlign: 'middle' } });
  graphics.push({ type: 'text', x: x + 12.5, y: y + 9, silent: true, style: { text: sub, fontFamily: SANS, fontSize: 14, fill: '#000', align: 'left', verticalAlign: 'middle' } });
});
concLabels.forEach(([p, E, I, t]) => {
  const [x, y] = toPx(p, E, I);
  graphics.push({ type: 'text', x, y, silent: true, style: { text: t, fontFamily: SANS, fontSize: 22, fill: '#000', align: 'left', verticalAlign: 'middle' } });
});
arrows.forEach(([p, E0, I0, E1, I1]) => {
  const a = toPx(p, E0, I0), b = toPx(p, E1, I1);
  const dx = b[0] - a[0], dy = b[1] - a[1], L = Math.hypot(dx, dy);
  const ux = dx / L, uy = dy / L, hl = 9, hw = 3.2;
  const bx = b[0] - ux * hl, by = b[1] - uy * hl;
  graphics.push({ type: 'line', silent: true, shape: { x1: a[0], y1: a[1], x2: bx, y2: by }, style: { stroke: '#000', lineWidth: 1.2 } });
  graphics.push({ type: 'polygon', silent: true, shape: { points: [[b[0], b[1]], [bx - uy * hw, by + ux * hw], [bx + uy * hw, by - ux * hw]] }, style: { fill: '#000' } });
});
// panel letters
[['(A)', 12, 30], ['(B)', 671, 32], ['(C)', 16, 511], ['(D)', 684, 521]].forEach(([t, x, y]) => {
  graphics.push({ type: 'text', x, y, silent: true, style: { text: t, fontFamily: SERIF, fontSize: 18, fill: '#111', align: 'left', verticalAlign: 'middle' } });
});
// running page header
graphics.push({ type: 'text', x: 35, y: 6, silent: true, style: { text: 'Paper', fontFamily: 'Open Sans', fontWeight: 'bold', fontSize: 20, fill: '#233d4c', align: 'right', verticalAlign: 'bottom' } });
graphics.push({ type: 'text', x: 1195, y: 5, silent: true, style: { text: 'RSC Advances', fontFamily: 'Open Sans', fontWeight: 'bold', fontSize: 20, fill: '#233d4c', align: 'left', verticalAlign: 'bottom' } });

chart.setOption({ graphic: graphics });
</script>
</body>
</html>
